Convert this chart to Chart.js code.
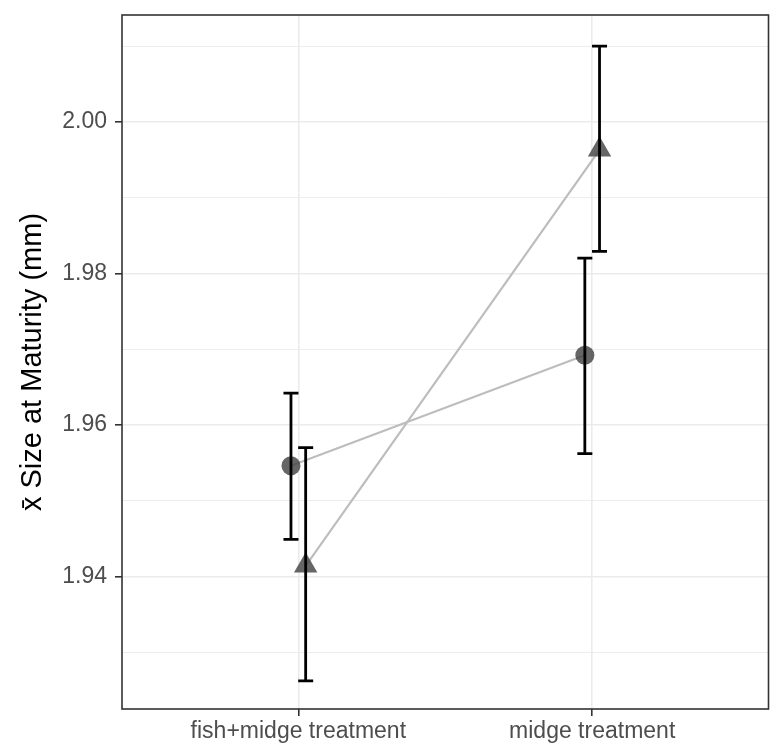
<!DOCTYPE html>
<html>
<head>
<meta charset="utf-8">
<script src="https://cdn.jsdelivr.net/npm/chart.js@4"></script>
<style>
  body { margin: 0; background: #fff; }
  #wrap { width: 782px; height: 750px; }
</style>
</head>
<body>
<div id="wrap"><canvas id="sizeChart"></canvas></div>
<script>
// data
const categories = ['fish+midge treatment', 'midge treatment'];
const circleMean = [1.9546, 1.9692];
const circleLow  = [1.9449, 1.9562];
const circleHigh = [1.9642, 1.9820];
const triMean = [1.9414, 1.9963];
const triLow  = [1.9262, 1.9829];
const triHigh = [1.9570, 2.0100];
const yTicks = [1.93, 1.94, 1.95, 1.96, 1.97, 1.98, 1.99, 2.00, 2.01];
const yMajor = [1.94, 1.96, 1.98, 2.00];

const dodge = 0.025;
const capHalf = 7.5;

function isMajor(v) {
    return yMajor.some(m => Math.abs(m - v) < 1e-6);
}

const errorBars = {
    id: 'errorBars',
    afterDatasetsDraw(chart) {
        const ctx = chart.ctx;
        const xs = chart.scales.x, ys = chart.scales.y;
        const sets = [
            {off: -dodge, low: circleLow, high: circleHigh},
            {off: dodge, low: triLow, high: triHigh}
        ];
        ctx.save();
        ctx.strokeStyle = '#000';
        ctx.lineWidth = 2.8;
        sets.forEach(s => {
            categories.forEach((c, i) => {
                const px = xs.getPixelForValue(i + 1 + s.off);
                const y1 = ys.getPixelForValue(s.low[i]);
                const y2 = ys.getPixelForValue(s.high[i]);
                ctx.beginPath();
                ctx.moveTo(px, y1); ctx.lineTo(px, y2);
                ctx.moveTo(px - capHalf, y1); ctx.lineTo(px + capHalf, y1);
                ctx.moveTo(px - capHalf, y2); ctx.lineTo(px + capHalf, y2);
                ctx.stroke();
            });
        });
        ctx.restore();
    }
};

const panelBorder = {
    id: 'panelBorder',
    afterDraw(chart) {
        const a = chart.chartArea, ctx = chart.ctx;
        ctx.save();
        ctx.strokeStyle = '#333333';
        ctx.lineWidth = 1.6;
        ctx.strokeRect(a.left, a.top, a.right - a.left, a.bottom - a.top);
        ctx.restore();
    }
};

const ctx = document.getElementById('sizeChart').getContext('2d');
const sizeChart = new Chart(ctx, {
    type: 'line',
    data: {
        datasets: [{
            label: 'circle',
            data: circleMean.map((v, i) => ({x: i + 1 - dodge, y: v})),
            borderColor: '#bdbdbd',
            borderWidth: 2.2,
            pointStyle: 'circle',
            pointRadius: 9.5,
            pointBackgroundColor: 'rgba(64, 64, 64, 0.8)',
            pointBorderWidth: 0
        }, {
            label: 'triangle',
            data: triMean.map((v, i) => ({x: i + 1 + dodge, y: v})),
            borderColor: '#bdbdbd',
            borderWidth: 2.2,
            pointStyle: 'triangle',
            pointRadius: 13.5,
            pointBackgroundColor: 'rgba(64, 64, 64, 0.8)',
            pointBorderWidth: 0
        }]
    },
    options: {
        responsive: true,
        maintainAspectRatio: false,
        animation: false,
        layout: { padding: { top: 15, right: 9, left: 0, bottom: 0 } },
        plugins: { legend: { display: false }, tooltip: { enabled: false } },
        scales: {
            x: {
                type: 'linear',
                min: 0.4,
                max: 2.6,
                afterBuildTicks: s => { s.ticks = categories.map((c, i) => ({value: i + 1})); },
                afterFit: s => { s.height = 41; s.paddingLeft = 0; s.paddingRight = 0; },
                border: { display: false },
                grid: { color: '#ebebeb', lineWidth: 1.6, tickLength: 7, tickColor: '#333333', tickWidth: 1.6 },
                ticks: {
                    padding: 2,
                    color: '#4d4d4d',
                    font: { family: 'Liberation Sans', size: 23 },
                    maxRotation: 0,
                    callback: v => categories[Math.round(v) - 1]
                }
            },
            y: {
                min: 1.9225,
                max: 2.0141,
                afterBuildTicks: s => { s.ticks = yTicks.map(v => ({value: v})); },
                afterFit: s => { s.width = 122; s.paddingTop = 0; s.paddingBottom = 0; },
                border: { display: false },
                grid: {
                    color: '#ebebeb',
                    lineWidth: c => isMajor(c.tick.value) ? 1.6 : 0.9,
                    tickLength: 7,
                    tickColor: c => isMajor(c.tick.value) ? '#333333' : 'rgba(0,0,0,0)',
                    tickWidth: 1.6
                },
                ticks: {
                    padding: 8,
                    color: '#4d4d4d',
                    font: { family: 'Liberation Sans', size: 23 },
                    callback: v => isMajor(v) ? v.toFixed(2) : ''
                },
                title: {
                    display: true,
                    text: 'x\u0304 Size at Maturity (mm)',
                    color: '#000',
                    font: { family: 'Liberation Sans', size: 29 },
                    padding: { top: 16, bottom: 0 }
                }
            }
        }
    },
    plugins: [errorBars, panelBorder]
});
</script>
</body>
</html>
